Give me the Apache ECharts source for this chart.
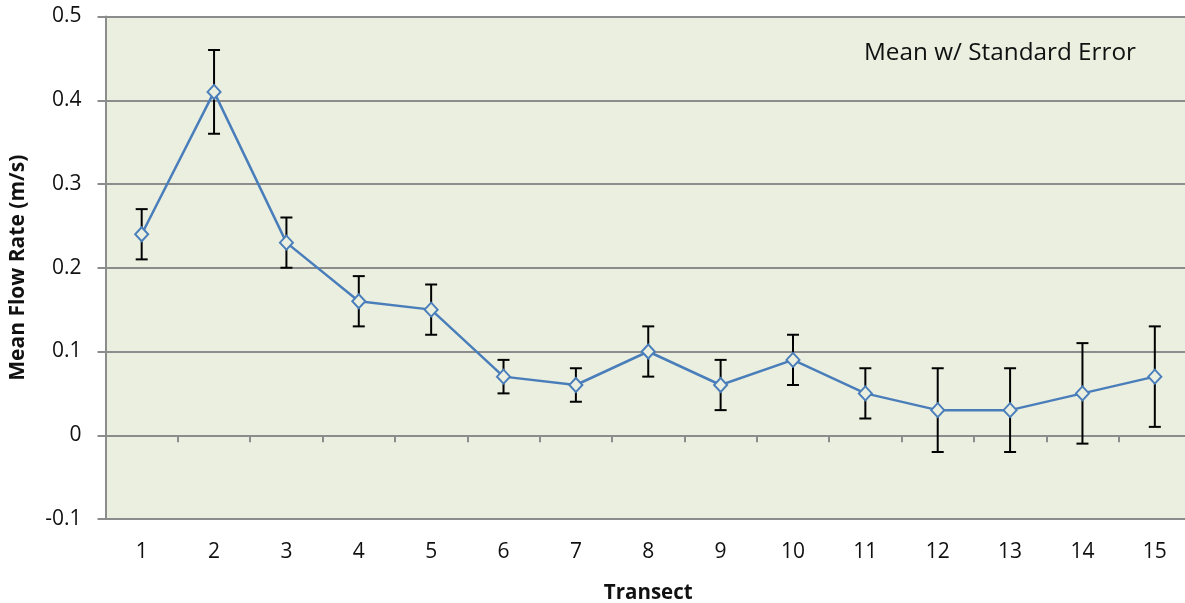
<!DOCTYPE html>
<html><head><meta charset="utf-8">
<script src="https://cdn.jsdelivr.net/npm/echarts@6/dist/echarts.min.js"></script>
<style>html,body{margin:0;padding:0;background:#fff}#c{width:1185px;height:603px}</style>
</head><body><div id="c"></div>
<script>
var categories = ['1','2','3','4','5','6','7','8','9','10','11','12','13','14','15'];
var means = [0.24,0.41,0.23,0.16,0.15,0.07,0.06,0.10,0.06,0.09,0.05,0.03,0.03,0.05,0.07];
var lows  = [0.21,0.36,0.20,0.13,0.12,0.05,0.04,0.07,0.03,0.06,0.02,-0.02,-0.02,-0.01,0.01];
var highs = [0.27,0.46,0.26,0.19,0.18,0.09,0.08,0.13,0.09,0.12,0.08,0.08,0.08,0.11,0.13];
var yTicks = [-0.1,0,0.1,0.2,0.3,0.4,0.5];

var FONT = '"Open Sans", sans-serif';
var BG = '#ebefdf';
var GRID = '#8c8c8c';
var BLUE = '#4a7ebb';

var chart = echarts.init(document.getElementById('c'), null, {renderer:'canvas'});
var errData = categories.map(function(c,i){ return [i, lows[i], highs[i]]; });

chart.setOption({
  animation:false,
  grid:{left:105.5, right:-6, top:16.5, bottom:84, show:true, backgroundColor:BG, borderWidth:0,
        containLabel:false, outerBoundsMode:'none'},
  xAxis:[{
    type:'category', data:categories, position:'bottom', boundaryGap:true,
    axisLine:{onZero:false, lineStyle:{color:GRID, width:2}},
    axisTick:{show:false},
    axisLabel:{color:'#111', fontSize:21, fontFamily:FONT, margin:23},
    name:'Transect', nameLocation:'middle', nameGap:64,
    nameTextStyle:{fontWeight:'bold', fontSize:20.5, color:'#111', fontFamily:FONT}
  },{
    type:'category', data:categories, position:'bottom', boundaryGap:true,
    axisLine:{onZero:true, show:true, lineStyle:{color:GRID, width:2}},
    axisTick:{show:true, interval:0, length:7, inside:false, lineStyle:{color:GRID, width:2}},
    axisLabel:{show:false}
  }],
  yAxis:{
    type:'value', min:-0.1, max:0.5, interval:0.1,
    axisLine:{show:true, lineStyle:{color:GRID, width:2}},
    axisTick:{show:true, length:8, lineStyle:{color:GRID, width:2}},
    splitLine:{show:true, lineStyle:{color:GRID, width:2}},
    axisLabel:{color:'#111', fontSize:21, fontFamily:FONT, margin:24,
      formatter:function(v){ var r=Math.round(v*10)/10; return yTicks.indexOf(r)>=0 ? String(r) : ''; }},
    name:'Mean Flow Rate (m/s)', nameLocation:'middle', nameGap:77, nameRotate:90,
    nameTextStyle:{fontWeight:'bold', fontSize:21, color:'#111', fontFamily:FONT}
  },
  series:[{
    type:'custom', xAxisIndex:0, data:errData, z:3,
    renderItem:function(params, api){
      var x = api.value(0);
      var lo = api.coord([x, api.value(1)]);
      var hi = api.coord([x, api.value(2)]);
      var cw = 6;
      var st = {stroke:'#000', lineWidth:2};
      return {type:'group', children:[
        {type:'line', shape:{x1:lo[0], y1:lo[1], x2:hi[0], y2:hi[1]}, style:st},
        {type:'line', shape:{x1:lo[0]-cw, y1:lo[1], x2:lo[0]+cw, y2:lo[1]}, style:st},
        {type:'line', shape:{x1:hi[0]-cw, y1:hi[1], x2:hi[0]+cw, y2:hi[1]}, style:st}
      ]};
    }
  },{
    type:'line', xAxisIndex:0, data:means, z:4,
    lineStyle:{color:BLUE, width:2.5},
    symbol:'diamond', symbolSize:[13,14], showAllSymbol:true,
    itemStyle:{color:BG, borderColor:BLUE, borderWidth:2}
  }],
  graphic:[{
    type:'text', left:864, top:41,
    style:{text:'Mean w/ Standard Error', fontSize:24.3, fontFamily:FONT, fill:'#111'}
  }]
});
</script></body></html>
